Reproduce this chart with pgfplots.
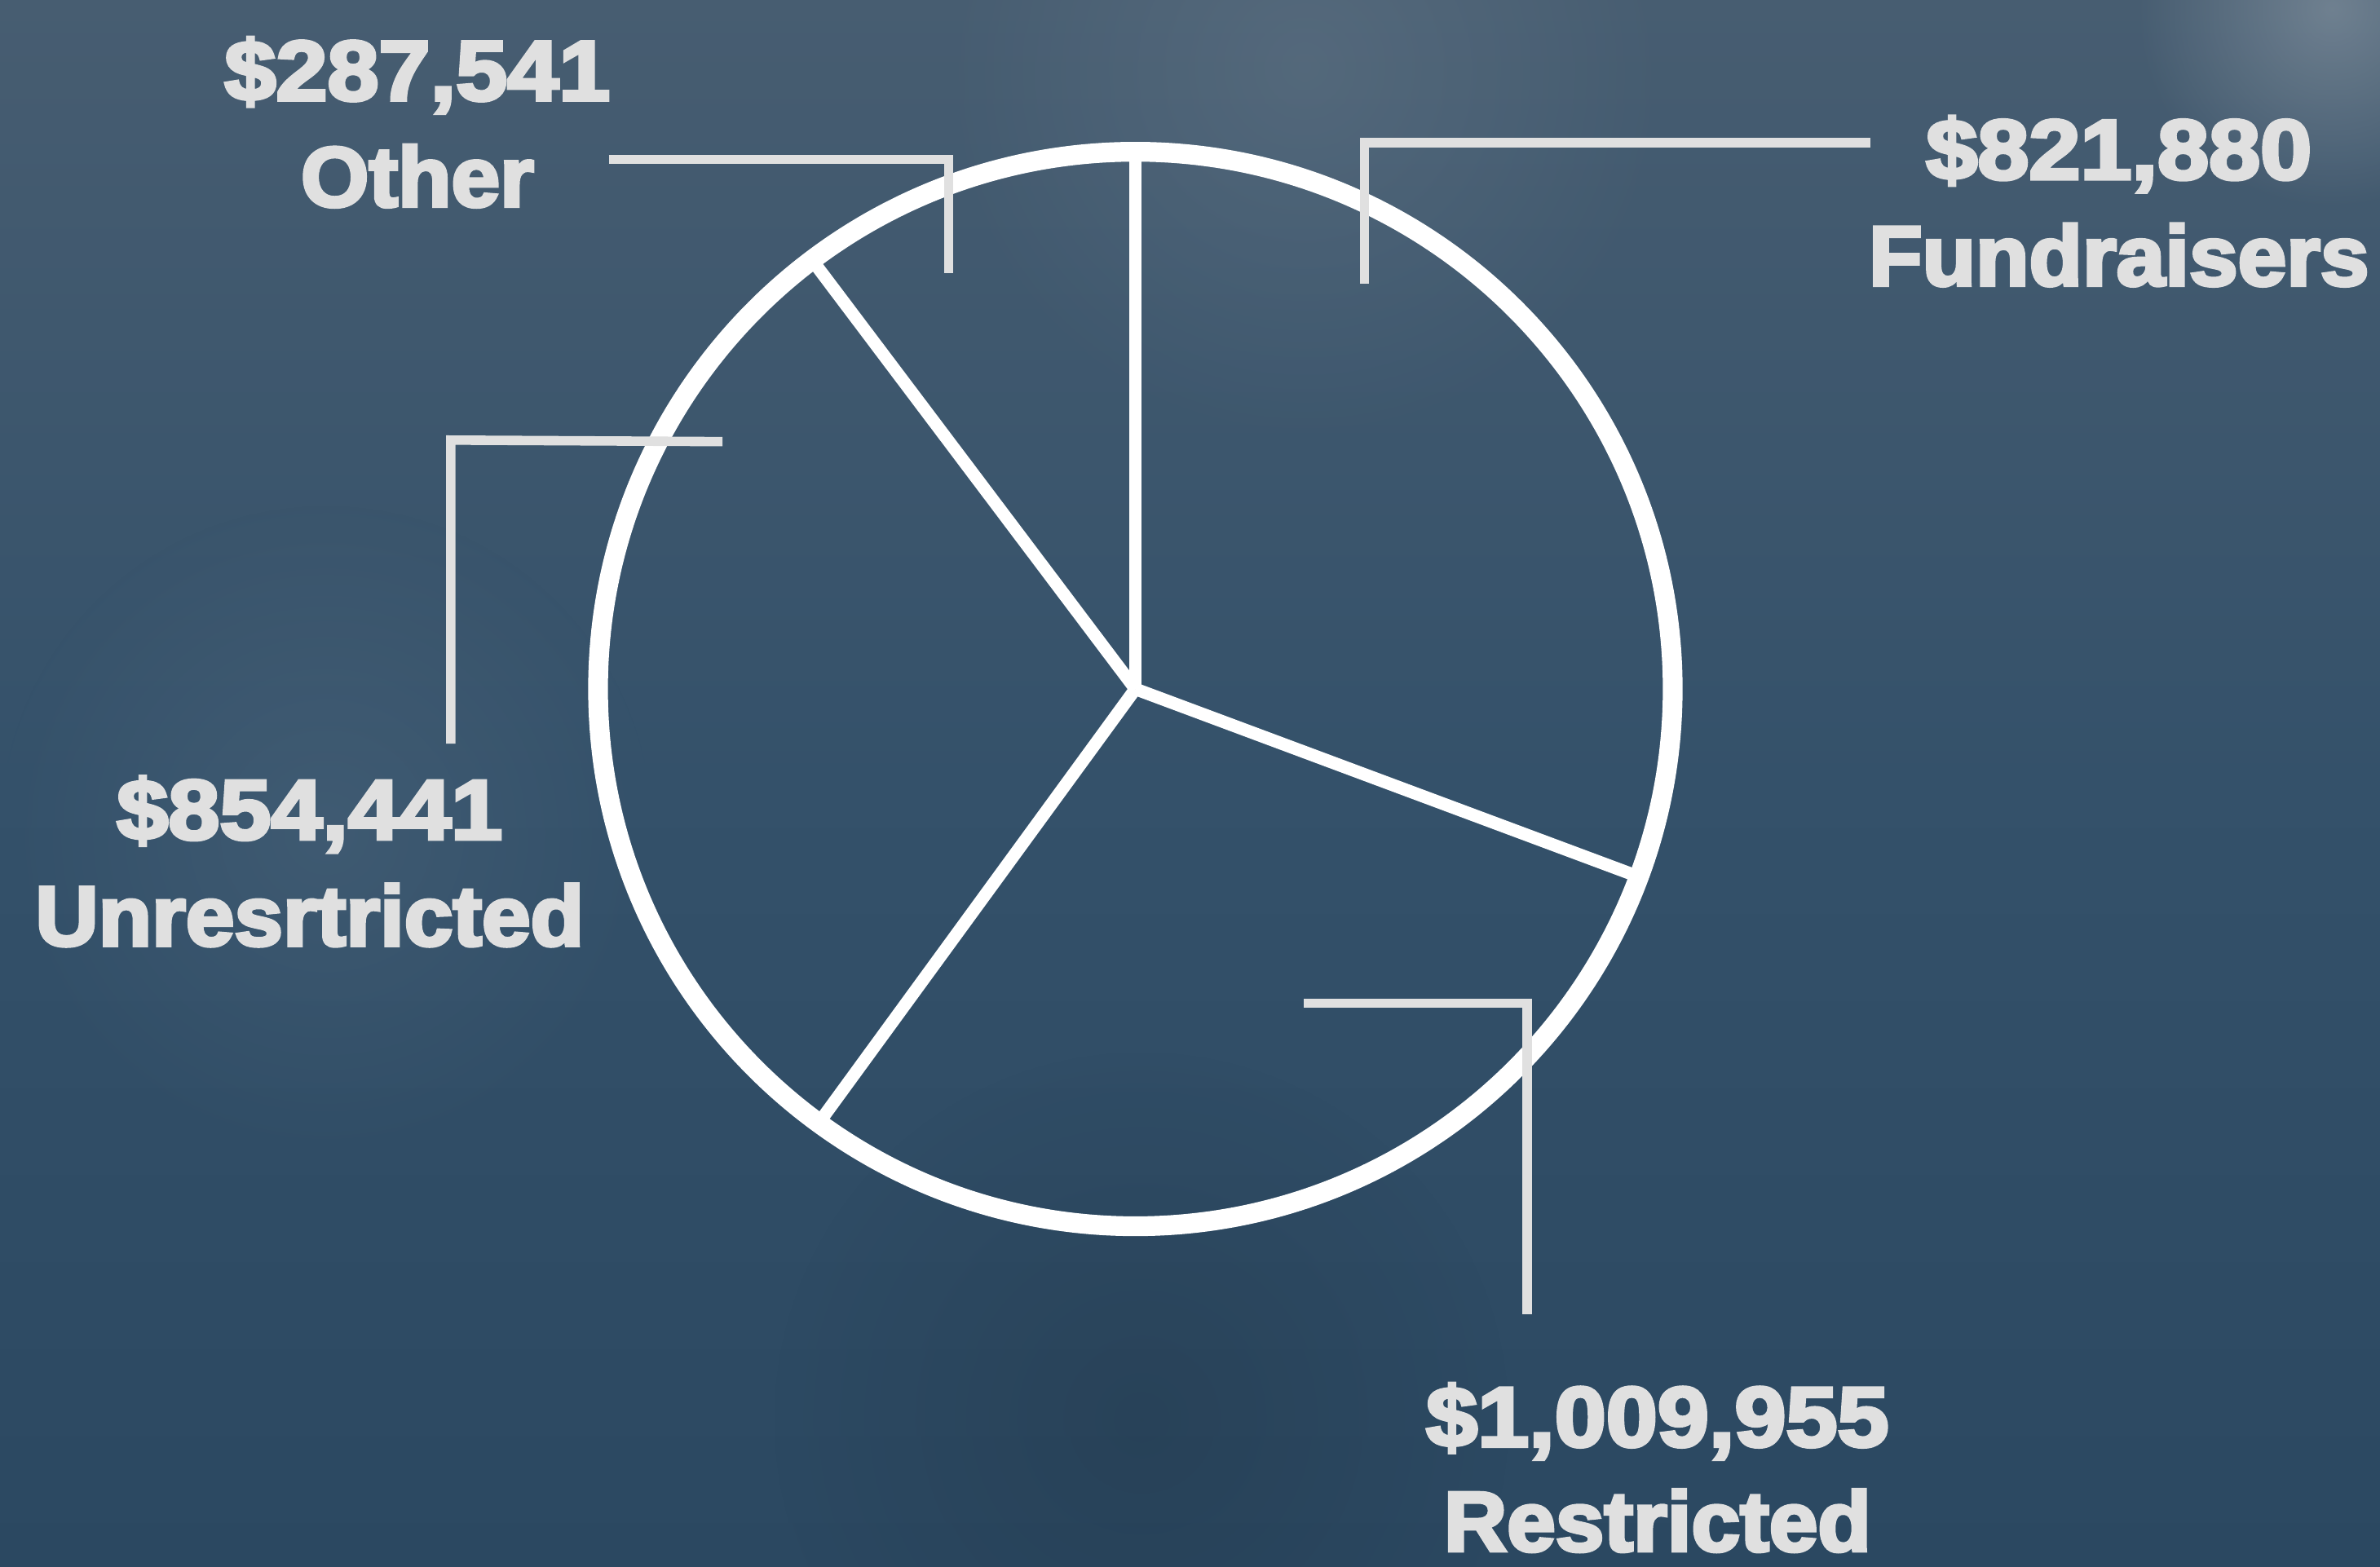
\documentclass[border=0pt]{standalone}
\usepackage{pgfplots}
\pgfplotsset{compat=1.18}
\usepackage{fontspec}
\setmainfont{Liberation Sans}
\newfontfamily\lblfont{Liberation Sans}[FakeBold=4]
\definecolor{bgtop}{HTML}{475D71}
\definecolor{bgmid}{HTML}{34516A}
\definecolor{bgbot}{HTML}{2B4861}
\definecolor{lbl}{HTML}{E0E0E0}
\begin{document}
\begin{tikzpicture}
\useasboundingbox (0,0) rectangle (29.19cm,19.21cm);
\shade[top color=bgtop, bottom color=bgbot, middle color=bgmid] (0,0) rectangle (29.19cm,19.21cm);
\begin{scope}
\clip (0,0) rectangle (29.19cm,19.21cm);
\shade[inner color=white, outer color=bgtop, opacity=0.22] (28.6cm,19.1cm) circle (2.4cm);
\shade[inner color=white, outer color=bgtop, opacity=0.08] (16cm,18.4cm) circle (4.5cm);
\shade[inner color=white, outer color=bgmid, opacity=0.06] (4cm,9cm) circle (4cm);
\shade[inner color=black, outer color=bgbot, opacity=0.10] (14cm,1.8cm) circle (4.5cm);
\end{scope}
\begin{axis}[at={(0,0)}, anchor=south west, width=29.19cm, height=19.21cm,
  scale only axis, xmin=0, xmax=1568, ymin=0, ymax=1032, hide axis, clip=false]
% pie outline
\draw[white, line width=6.9pt] (axis cs:748,578) circle[radius=354];
% slice boundaries
\addplot[white, line width=4.4pt] coordinates {(748,578) (748,932)};
\addplot[white, line width=4.4pt] coordinates {(748,578) (1079.7,454.3)};
\addplot[white, line width=4.4pt] coordinates {(748,578) (539.4,292)};
\addplot[white, line width=4.4pt] coordinates {(748,578) (535,860.7)};
% leader lines
\addplot[lbl, line width=3.3pt] coordinates {(401,927) (625,927) (625,852)};
\addplot[lbl, line width=3.3pt] coordinates {(1232,938) (899,938) (899,845)};
\addplot[lbl, line width=3.3pt] coordinates {(476,741) (297,742) (297,542)};
\addplot[lbl, line width=3.3pt] coordinates {(859,371) (1006,371) (1006,166)};
% labels
\tikzset{lb/.style={anchor=base, text=lbl, font=\lblfont\bfseries\fontsize{29.6pt}{34pt}\selectfont, inner sep=0pt},
  num/.style={lb, xscale=1.09}, nam/.style={lb, xscale=1.03}}
\node[num] at (axis cs:275,966) {\$287,541};
\node[nam] at (axis cs:275,896) {Other};
\node[num] at (axis cs:1396,914) {\$821,880};
\node[nam] at (axis cs:1396,844) {Fundraisers};
\node[num] at (axis cs:204,479) {\$854,441};
\node[nam] at (axis cs:204,409) {Unresrtricted};
\node[num] at (axis cs:1092,79) {\$1,009,955};
\node[nam] at (axis cs:1092,10) {Restricted};
\end{axis}
\end{tikzpicture}
\end{document}
